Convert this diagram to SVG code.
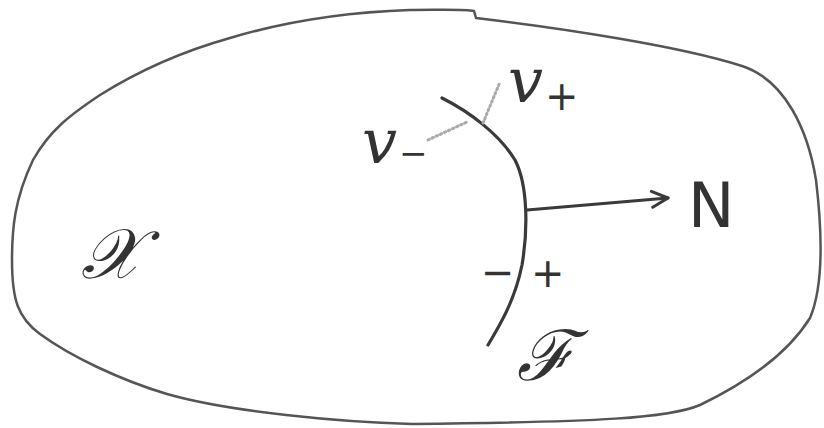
<svg xmlns="http://www.w3.org/2000/svg" width="824" height="428" viewBox="0 0 824 428">
<style>
.ink{fill:none;stroke:#3a3a3a;stroke-linecap:round;stroke-linejoin:round}
.outer{stroke:#555;stroke-width:2.5}
.lbl{font-family:"DejaVu Serif","Liberation Serif",serif;font-style:italic;fill:#333}
.sign{font-family:"DejaVu Sans","Liberation Sans",sans-serif;fill:#333}
</style>
<defs>
<marker id="open" viewBox="0 0 20 20" refX="18" refY="10" markerWidth="20" markerHeight="20" markerUnits="userSpaceOnUse" orient="auto">
<path d="M2,2 L18,10 L2,18" fill="none" stroke="#3a3a3a" stroke-width="3" stroke-linecap="round" stroke-linejoin="round"/>
</marker>
</defs>
<rect width="824" height="428" fill="#fff"/>
<g id="region">
<path class="ink outer" d="M410,10 C440,10 465,9 474,11 L476,18 C560,28 680,46 742,66 C785,80 808,130 816,180 C822,230 824,285 810,318 C790,350 752,380 700,405 C670,418 600,422 412,424 C340,422 230,412 167,394 C120,380 70,356 40,334 C18,318 12,300 12,260 C12,230 14,200 33,160 C50,130 70,115 100,95 C140,70 180,52 230,38 C290,20 350,12 410,10 Z"/>
</g>
<g id="interface">
<path class="ink" stroke-width="3.2" d="M442,98 C470,112 500,135 515,160 C528,185 528,230 522,265 C515,300 500,325 488,345"/>
</g>
<g id="connectors">
<path class="ink" stroke-width="3.2" d="M527,210 L668,198" marker-end="url(#open)"/>
<path fill="none" stroke="#aaa" stroke-width="3" stroke-dasharray="1.5 3" stroke-linecap="round" d="M428,140 L467,122"/>
<path fill="none" stroke="#aaa" stroke-width="3" stroke-dasharray="1.5 3" stroke-linecap="round" d="M483,123 L500,82"/>
</g>
<g id="labels">
<text class="lbl" x="362" y="163" font-size="62">v<tspan class="sign" font-style="normal" font-size="34" dx="2" dy="2">−</tspan></text>
<text class="lbl" x="508" y="102" font-size="62">v<tspan class="sign" font-style="normal" font-size="40" dx="2" dy="8">+</tspan></text>
<text class="sign" x="688" y="227" font-size="62">N</text>
<text class="sign" x="481" y="286" font-size="40">−</text>
<text class="sign" x="531" y="287" font-size="40">+</text>
<text class="lbl" x="111" y="278" font-size="70" text-anchor="middle">𝒳</text>
<text class="lbl" x="546" y="380" font-size="70" text-anchor="middle" font-style="normal">ℱ</text>
</g>
</svg>
